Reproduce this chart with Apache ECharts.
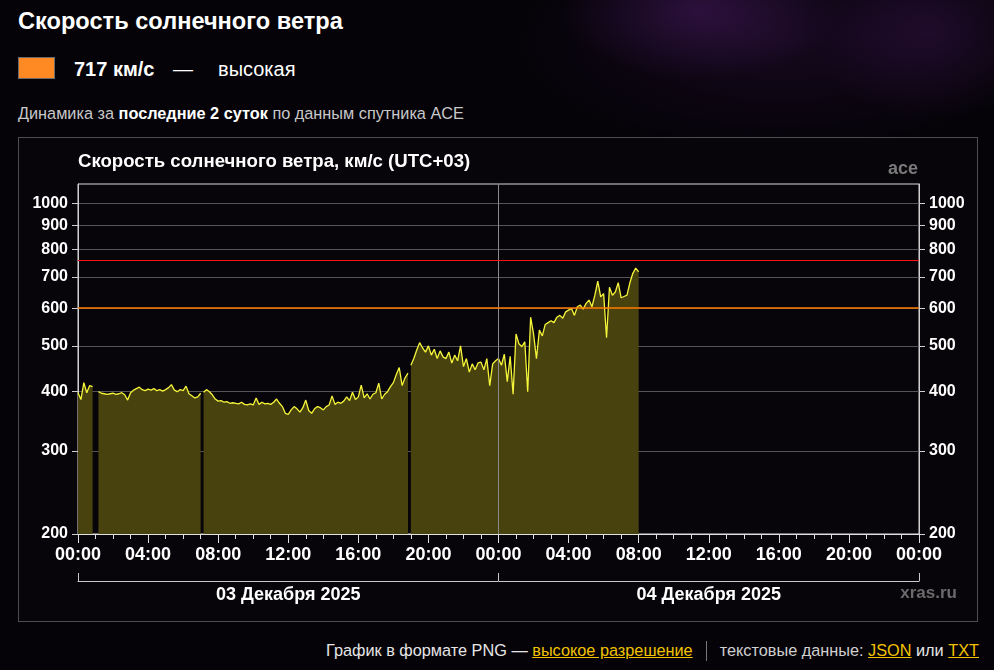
<!DOCTYPE html>
<html><head><meta charset="utf-8">
<script src="https://cdn.jsdelivr.net/npm/echarts@6/dist/echarts.min.js"></script>
<style>
html,body{margin:0;padding:0}
body{width:994px;height:670px;overflow:hidden;position:relative;font-family:'Liberation Sans',Arial,sans-serif;
 background:
  radial-gradient(ellipse 140px 70px at 700px 10px, rgba(110,40,150,0.30), rgba(0,0,0,0) 100%),
  radial-gradient(ellipse 120px 90px at 930px 30px, rgba(90,30,120,0.25), rgba(0,0,0,0) 100%),
  radial-gradient(ellipse 260px 110px at 780px 40px, rgba(60,20,80,0.30), rgba(0,0,0,0) 100%),
  #050308;}
.t{position:absolute;line-height:1;white-space:nowrap}
a{color:#f2c200;text-decoration:underline}
</style></head>
<body>
<div class="t" style="left:18px;top:10px;font-size:23.6px;font-weight:bold;color:#fff">Скорость солнечного ветра</div>
<div style="position:absolute;left:18px;top:57px;width:35px;height:20px;background:#ff8a24;border:1px solid #6a6a6a"></div>
<div class="t" style="left:74px;top:59px;font-size:20px;font-weight:bold;color:#fff">717 км/с</div>
<div class="t" style="left:173px;top:59px;font-size:20px;color:#fff">—</div>
<div class="t" style="left:218px;top:59px;font-size:20px;color:#fff">высокая</div>
<div class="t" style="left:18px;top:105px;font-size:16.3px;color:#c8c8c8">Динамика за <b style="color:#fff">последние 2 суток</b> по данным спутника ACE</div>
<div style="position:absolute;left:18px;top:137px;width:958px;height:483px;border:1px solid #4d4d4d;background:#070509"></div>
<div id="chart" style="position:absolute;left:18px;top:137px;width:960px;height:485px"></div>
<div class="t" style="right:15px;top:641px;font-size:16.3px;color:#e6e6e6">График в формате PNG — <a>высокое разрешение</a><span style="display:inline-block;width:0;height:20px;border-left:1px solid #777;margin:0 13px 0 13px;vertical-align:-5px"></span><span style="color:#cfcfcf">текстовые данные: </span><a>JSON</a> или <a>TXT</a></div>
<script>
// --- data (10-minute steps from 03.12.2025 00:00, UTC+03) ---
const stepMinutes = 10;
const speed = [
 398,385,418,398,412,410,
 null,400,397,396,395,396,
 397,395,396,398,394,384,
 398,403,406,409,404,402,
 405,403,406,402,404,401,
 404,408,414,403,400,404,
 402,411,396,392,388,390,
 397,399,404,400,394,386,
 382,383,380,381,378,379,
 378,377,380,376,375,377,
 375,388,376,380,377,378,
 376,380,386,378,372,360,
 358,366,372,368,362,370,
 384,365,360,368,372,370,
 366,372,375,392,376,380,
 378,382,390,383,399,385,
 390,413,388,396,386,395,
 398,417,386,395,400,410,
 418,435,450,412,428,438,
 455,470,490,508,495,485,
 500,478,492,470,488,474,
 470,485,460,478,465,500,
 452,470,440,458,445,460,
 462,445,470,412,458,465,
 470,455,480,420,475,395,
 530,505,498,510,400,575,
 530,470,540,525,555,560,
 565,560,575,580,572,590,
 595,600,580,605,610,598,
 615,625,605,640,685,635,
 645,520,665,640,650,680,
 632,636,640,680,712,730,
 717
];
const gapMinutes = [425, 1135];          // short data dropouts
const yTicks = [200,300,400,500,600,700,800,900,1000];
const yMin = 200, yMax = 1100;
const xLabels = ['00:00','04:00','08:00','12:00','16:00','20:00','00:00','04:00','08:00','12:00','16:00','20:00','00:00'];
const dayLabels = ['03 Декабря 2025','04 Декабря 2025'];
const dayBoundaryMinutes = [1440];
const levelOrange = [600];
const levelRed = [750];

// --- build ---
const pts = speed.map((v,i)=>[i*stepMinutes, v==null?null:Math.log10(v)]);
gapMinutes.forEach(m=>pts.push([m,null]));
pts.sort((a,b)=>a[0]-b[0]);
const lg = v=>Math.log10(v);
const yAxisBase = (pos)=>({
  type:'value', position:pos, min:lg(yMin), max:lg(yMax),
  axisLine:{show:true,lineStyle:{color:'#cfcfcf',width:1}},
  axisTick:{show:true,length:6,lineStyle:{color:'#cfcfcf'},customValues:yTicks.map(lg)},
  axisLabel:{color:'#fff',fontWeight:'bold',fontSize:16,margin:10,fontFamily:'Liberation Sans',
    customValues:yTicks.map(lg), formatter:v=>String(Math.round(Math.pow(10,v)))},
  splitLine:{show:pos==='left',lineStyle:{color:'#555',width:1}}
});
const mk = (item,color,name,w)=>({
  type:'line',name:name,xAxisIndex:0,yAxisIndex:0,data:[],silent:true,z:5,
  color:color,
  markLine:{silent:true,symbol:'none',label:{show:false},animation:false,
    lineStyle:{color:color,width:w,type:'solid',opacity:1},
    emphasis:{disabled:true},
    data:[Object.assign({lineStyle:{color:color,width:w,type:'solid'}},item)]}
});
const chart = echarts.init(document.getElementById('chart'),null,{renderer:'canvas'});
chart.setOption({
  animation:false,
  backgroundColor:'transparent',
  title:{text:'Скорость солнечного ветра, км/с (UTC+03)',left:60,top:15,padding:0,
    textStyle:{color:'#fff',fontSize:18.6,fontWeight:'bold',fontFamily:'Liberation Sans'}},
  graphic:[
    {type:'text',right:60,top:23,style:{text:'ace',fill:'#7a7a7a',font:'bold 18px "Liberation Sans"'}},
    {type:'text',right:21,top:448,style:{text:'xras.ru',fill:'#6a6a6a',font:'bold 17px "Liberation Sans"'}}
  ],
  grid:{left:60,right:59,top:47,bottom:88,show:true,borderColor:'#d8d8d8',borderWidth:1,backgroundColor:'transparent'},
  xAxis:[{
    type:'value',min:0,max:2880,interval:240,position:'bottom',
    axisLine:{show:true,onZero:false,lineStyle:{color:'#e0e0e0'}},
    axisTick:{show:true,length:9,lineStyle:{color:'#e0e0e0'}},
    minorTick:{show:true,splitNumber:4,length:5,lineStyle:{color:'#e0e0e0'}},
    splitLine:{show:false},
    axisLabel:{color:'#fff',fontWeight:'bold',fontSize:18,margin:12,fontFamily:'Liberation Sans',
      showMinLabel:true,showMaxLabel:true,formatter:v=>xLabels[Math.round(v/240)]||''}
  },{
    type:'category',data:dayLabels,position:'bottom',offset:47,boundaryGap:true,
    axisLine:{show:true,onZero:false,lineStyle:{color:'#c8c8c8'}},
    axisTick:{show:true,inside:true,length:8,alignWithLabel:false,lineStyle:{color:'#c8c8c8'}},
    axisLabel:{color:'#fff',fontWeight:'bold',fontSize:18,margin:5,fontFamily:'Liberation Sans'},
    splitLine:{show:false}
  }],
  yAxis:[yAxisBase('left'),yAxisBase('right')],
  series:[{
    type:'line',xAxisIndex:0,yAxisIndex:0,data:pts,showSymbol:false,connectNulls:false,
    lineStyle:{color:'#f5f53a',width:1.3},
    areaStyle:{color:'#48420f',opacity:1,origin:'start'},
    emphasis:{disabled:true}
  },
  mk({xAxis:dayBoundaryMinutes[0]},'#8a8a8a','day',1),
  mk({yAxis:lg(levelOrange[0])},'#ff7a00','orange',1.6),
  mk({yAxis:lg(levelRed[0])},'#ff1010','red',1)
  ]
});
</script>
</body></html>
